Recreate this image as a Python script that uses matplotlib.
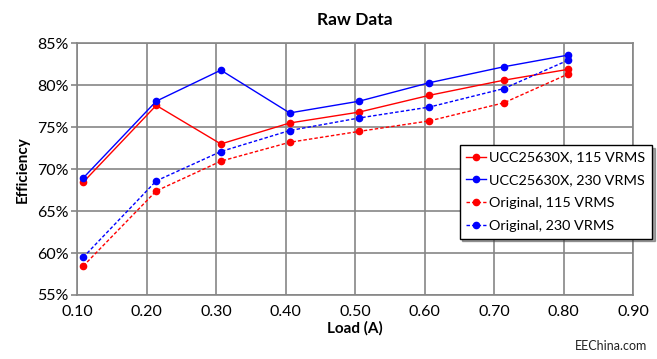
import matplotlib
matplotlib.use("Agg")
import matplotlib.pyplot as plt
from matplotlib.ticker import FuncFormatter

load = [0.109, 0.214, 0.307, 0.406, 0.506, 0.607, 0.714, 0.807]
ucc_115 = [68.45, 77.6, 73.0, 75.5, 76.8, 78.8, 80.6, 81.9]
ucc_230 = [68.95, 78.1, 81.8, 76.7, 78.1, 80.3, 82.2, 83.6]
orig_115 = [58.45, 67.4, 70.95, 73.2, 74.5, 75.75, 77.9, 81.35]
orig_230 = [59.5, 68.6, 72.1, 74.6, 76.1, 77.4, 79.6, 83.0]
labels = ["UCC25630X, 115 VRMS", "UCC25630X, 230 VRMS",
          "Original, 115 VRMS", "Original, 230 VRMS"]
xticks = [0.10, 0.20, 0.30, 0.40, 0.50, 0.60, 0.70, 0.80, 0.90]
yticks = [55, 60, 65, 70, 75, 80, 85]

plt.rcParams['font.family'] = ['Lato', 'DejaVu Sans']

fig = plt.figure(figsize=(6.57, 3.59), dpi=100)
ax = fig.add_axes([0.1172, 0.1783, 0.8463, 0.7011])

ms = 4.5
ax.plot(load, ucc_115, color='#FF0000', lw=1.0, marker='o', ms=ms, label=labels[0])
ax.plot(load, ucc_230, color='#0000FF', lw=1.0, marker='o', ms=ms, label=labels[1])
ax.plot(load, orig_115, color='#FF0000', lw=1.0, ls=(0, (2.5, 1.5)), marker='o', ms=ms, label=labels[2])
ax.plot(load, orig_230, color='#0000FF', lw=1.0, ls=(0, (2.5, 1.5)), marker='o', ms=ms, label=labels[3])

ax.set_xlim(0.10, 0.90)
ax.set_ylim(55, 85)
ax.set_xticks(xticks)
ax.set_yticks(yticks)
ax.xaxis.set_major_formatter(FuncFormatter(lambda v, p: f"{v:.2f}"))
ax.yaxis.set_major_formatter(FuncFormatter(lambda v, p: f"{v:.0f}%"))
ax.grid(True, color='#868686', lw=1.2)
ax.set_axisbelow(True)
for s in ax.spines.values():
    s.set_color('#868686')
    s.set_linewidth(1.2)
ax.tick_params(axis='y', length=4, color='#868686', width=1.2, labelsize=11.5, pad=2)
ax.tick_params(axis='x', length=0, labelsize=11.5, pad=7)

ax.set_title("Raw Data", fontsize=12.5, fontweight='bold', pad=13)
ax.set_xlabel("Load (A)", fontsize=11, fontweight='bold', labelpad=2)
ax.set_ylabel("Efficiency", fontsize=11, fontweight='bold', labelpad=5)

leg = ax.legend(loc='upper right', bbox_to_anchor=(0.992, 0.596), bbox_transform=fig.transFigure,
                fontsize=10.4, frameon=True, fancybox=False, shadow=True,
                handlelength=1.4, handletextpad=0.2, borderpad=0.45, labelspacing=0.74,
                borderaxespad=0)
leg.get_frame().set_edgecolor('black')
leg.get_frame().set_linewidth(1.0)

fig.text(0.875, 0.035, "EEChina.com", fontsize=9, ha='left', va='center', color='#222222')

fig.savefig("out.png", dpi=100)
